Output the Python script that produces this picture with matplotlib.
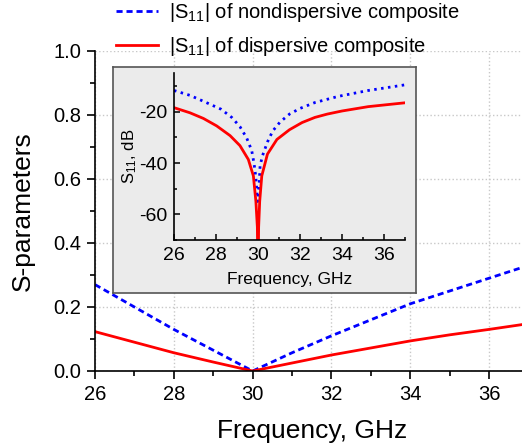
import matplotlib
matplotlib.use("Agg")
import matplotlib.pyplot as plt
from matplotlib.ticker import MultipleLocator

plt.rcParams['font.family'] = ['Liberation Sans', 'DejaVu Sans']
plt.rcParams['mathtext.fontset'] = 'custom'
plt.rcParams['mathtext.rm'] = 'Liberation Sans'
plt.rcParams['mathtext.it'] = 'Liberation Sans'
plt.rcParams['axes.unicode_minus'] = False

# main plot data (|S11|, linear)
freq = [26, 27, 28, 29, 30, 31, 32, 33, 34, 35, 36, 37]
s11_nondisp = [0.27, 0.20, 0.13, 0.065, 0.0, 0.057, 0.11, 0.16, 0.21, 0.25, 0.29, 0.33]
s11_disp = [0.123, 0.09, 0.057, 0.028, 0.0, 0.025, 0.05, 0.072, 0.094, 0.113, 0.13, 0.148]

# inset data (S11, dB)
freq_in_disp = [26.0, 26.76, 27.4, 28.03, 28.67, 29.14, 29.54, 29.78, 29.9, 29.97, 30.0,
                30.03, 30.08, 30.18, 30.45, 30.9, 31.5, 32.1, 32.71, 33.3, 34.0, 35.25, 37.0]
db_disp = [-18.4, -20.4, -22.6, -25.5, -29.3, -33.2, -38.6, -45, -55, -65, -90,
           -65, -55, -45, -36.5, -30.8, -27, -24.2, -22.2, -20.9, -19.7, -18.0, -16.5]
freq_in_nondisp = [26.0, 26.76, 27.48, 28.24, 28.75, 29.14, 29.46, 29.7, 29.81, 29.89, 29.94,
                   29.98, 30.02, 30.06, 30.1, 30.22, 30.45, 30.7, 31.05, 31.5, 32.0, 32.71,
                   33.82, 35.25, 37.0]
db_nondisp = [-11.7, -13.6, -16.2, -19.0, -22.2, -25.8, -30.2, -35.1, -40.1, -45, -50,
              -55, -52, -47.5, -41, -37, -31.8, -27.5, -24, -20.9, -18.7, -16.4,
              -14.0, -11.7, -9.5]

label_nd = r'|S$_{11}$| of nondispersive composite'
label_d = r'|S$_{11}$| of dispersive composite'

W, H = 522, 446
fig = plt.figure(figsize=(W / 100, H / 100), dpi=100)

def fx(p):
    return p / W

def fy(p):
    return 1 - p / H

ax = fig.add_axes([fx(95), fy(371), fx(528.5) - fx(95), fy(51) - fy(371)])
ax.plot(freq, s11_nondisp, color='#0000ff', lw=2, linestyle=(0, (2.2, 1.4)), label=label_nd)
ax.plot(freq, s11_disp, color='#ff0000', lw=2, label=label_d)
ax.set_xlim(26, 37)
ax.set_ylim(0, 1.0)
ax.xaxis.set_major_locator(MultipleLocator(2))
ax.xaxis.set_minor_locator(MultipleLocator(1))
ax.yaxis.set_major_locator(MultipleLocator(0.2))
ax.yaxis.set_minor_locator(MultipleLocator(0.1))
ax.yaxis.set_major_formatter(matplotlib.ticker.FormatStrFormatter('%.1f'))
for s in ['top', 'right']:
    ax.spines[s].set_visible(False)
for s in ['left', 'bottom']:
    ax.spines[s].set_linewidth(1.2)
ax.tick_params(which='major', direction='out', length=6, width=1.2, labelsize=14.5, pad=4)
ax.tick_params(which='minor', direction='out', length=3.5, width=1.2)
ax.grid(True, which='major', linestyle=':', color='#c8c8c8', lw=1)
ax.set_xlabel('Frequency, GHz', fontsize=19, labelpad=11)
ax.set_ylabel('S-parameters', fontsize=19, labelpad=13)

leg = ax.legend(loc='upper left', bbox_to_anchor=(fx(116), fy(1)), bbox_transform=fig.transFigure,
                frameon=False, fontsize=14.5, handlelength=2.1, handletextpad=0.55,
                labelspacing=0.55, borderaxespad=0, borderpad=0)

# inset panel
panel = fig.add_axes([fx(113.3), fy(292.5), fx(416) - fx(113.3), fy(67.3) - fy(292.5)])
panel.set_facecolor('#ebebeb')
panel.set_xticks([])
panel.set_yticks([])
for s in panel.spines.values():
    s.set_color('#555555')
    s.set_linewidth(1.2)

axi = fig.add_axes([fx(174), fy(240), fx(405) - fx(174), fy(73.3) - fy(240)])
axi.set_facecolor('none')
axi.plot(freq_in_nondisp, db_nondisp, color='#0000ff', lw=2, linestyle=(0, (0.9, 1.6)))
axi.plot(freq_in_disp, db_disp, color='#ff0000', lw=2)
axi.set_xlim(26, 37)
axi.set_ylim(-70, -5)
axi.xaxis.set_major_locator(MultipleLocator(2))
axi.xaxis.set_minor_locator(MultipleLocator(1))
axi.yaxis.set_major_locator(MultipleLocator(20))
axi.yaxis.set_minor_locator(MultipleLocator(10))
for s in ['top', 'right']:
    axi.spines[s].set_visible(False)
for s in ['left', 'bottom']:
    axi.spines[s].set_linewidth(1.2)
axi.tick_params(which='major', direction='in', length=4, width=1.1, labelsize=14, pad=5)
axi.tick_params(which='minor', direction='in', length=2.5, width=1.1)
axi.set_xlabel('Frequency, GHz', fontsize=12.5, labelpad=6)
axi.set_ylabel(r'S$_{11}$, dB', fontsize=12, labelpad=0)

fig.savefig('out.png', dpi=100)
